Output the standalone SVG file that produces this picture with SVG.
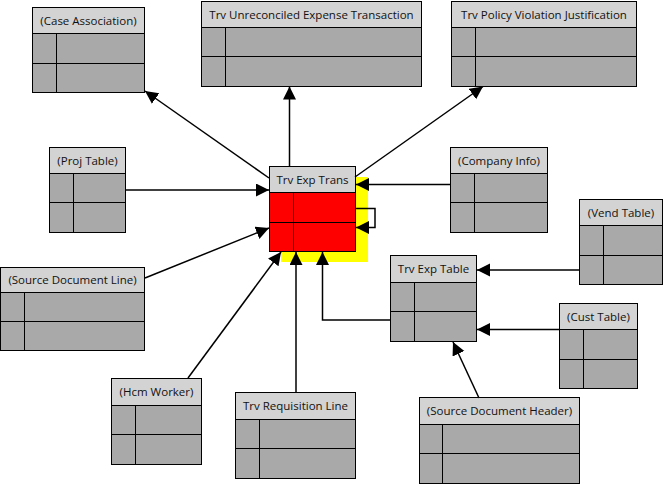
<svg xmlns="http://www.w3.org/2000/svg" width="663" height="484" viewBox="0 0 663 484">
<defs>
<marker id="ah" markerUnits="userSpaceOnUse" markerWidth="14" markerHeight="14" refX="13" refY="6.5" orient="auto">
<path d="M0,0 L13,6.5 L0,13 z" fill="#000"/>
</marker>
<style>
.body{fill:#a9a9a9;stroke:#000;stroke-width:1}
.red{fill:#ff0000;stroke:#000;stroke-width:1}
.hdr{fill:#d3d3d3;stroke:#000;stroke-width:1}
.div{stroke:#000;stroke-width:1;fill:none}
.lbl{font-family:"Open Sans","Noto Sans",sans-serif;font-size:11.5px;fill:#111;text-anchor:middle}
.con{stroke:#000;stroke-width:1.5;fill:none;marker-end:url(#ah)}
</style>
</defs>
<rect width="663" height="484" fill="#fff"/>

<g id="case-association">
<rect class="body" x="32.5" y="7.5" width="112" height="85"/>
<rect class="hdr" x="32.5" y="7.5" width="112" height="26"/>
<line class="div" x1="32.5" y1="63.5" x2="144.5" y2="63.5"/>
<line class="div" x1="56.5" y1="33.5" x2="56.5" y2="92.5"/>
<text class="lbl" x="88.5" y="24.5">(Case Association)</text>
</g>

<g id="trv-unreconciled-expense-transaction">
<rect class="body" x="201.5" y="1.5" width="220" height="85"/>
<rect class="hdr" x="201.5" y="1.5" width="220" height="26"/>
<line class="div" x1="201.5" y1="56.5" x2="421.5" y2="56.5"/>
<line class="div" x1="225.5" y1="27.5" x2="225.5" y2="86.5"/>
<text class="lbl" x="311.5" y="18.5">Trv Unreconciled Expense Transaction</text>
</g>

<g id="trv-policy-violation-justification">
<rect class="body" x="451.5" y="1.5" width="185" height="85"/>
<rect class="hdr" x="451.5" y="1.5" width="185" height="26"/>
<line class="div" x1="451.5" y1="56.5" x2="636.5" y2="56.5"/>
<line class="div" x1="475.5" y1="27.5" x2="475.5" y2="86.5"/>
<text class="lbl" x="544" y="18.5">Trv Policy Violation Justification</text>
</g>

<g id="trv-exp-trans">
<rect x="281" y="177" width="87" height="85" fill="#ffff00"/>
<rect class="red" x="269.5" y="166.5" width="86" height="85"/>
<rect class="hdr" x="269.5" y="166.5" width="86" height="26"/>
<line class="div" x1="269.5" y1="222.5" x2="355.5" y2="222.5"/>
<line class="div" x1="293.5" y1="192.5" x2="293.5" y2="251.5"/>
<text class="lbl" x="312.5" y="183.5">Trv Exp Trans</text>
</g>

<g id="proj-table">
<rect class="body" x="49.5" y="147.5" width="76" height="85"/>
<rect class="hdr" x="49.5" y="147.5" width="76" height="26"/>
<line class="div" x1="49.5" y1="202.5" x2="125.5" y2="202.5"/>
<line class="div" x1="73.5" y1="173.5" x2="73.5" y2="232.5"/>
<text class="lbl" x="87.5" y="164.5">(Proj Table)</text>
</g>

<g id="source-document-line">
<rect class="body" x="0.5" y="267.5" width="144" height="83"/>
<rect class="hdr" x="0.5" y="267.5" width="144" height="25"/>
<line class="div" x1="0.5" y1="321.5" x2="144.5" y2="321.5"/>
<line class="div" x1="24.5" y1="292.5" x2="24.5" y2="350.5"/>
<text class="lbl" x="72.5" y="284">(Source Document Line)</text>
</g>

<g id="company-info">
<rect class="body" x="450.5" y="147.5" width="97" height="85"/>
<rect class="hdr" x="450.5" y="147.5" width="97" height="26"/>
<line class="div" x1="450.5" y1="202.5" x2="547.5" y2="202.5"/>
<line class="div" x1="474.5" y1="173.5" x2="474.5" y2="232.5"/>
<text class="lbl" x="499" y="164.5">(Company Info)</text>
</g>

<g id="vend-table">
<rect class="body" x="579.5" y="199.5" width="83" height="85"/>
<rect class="hdr" x="579.5" y="199.5" width="83" height="26"/>
<line class="div" x1="579.5" y1="255.5" x2="662.5" y2="255.5"/>
<line class="div" x1="603.5" y1="225.5" x2="603.5" y2="284.5"/>
<text class="lbl" x="621" y="216.5">(Vend Table)</text>
</g>

<g id="trv-exp-table">
<rect class="body" x="390.5" y="255.5" width="86" height="86"/>
<rect class="hdr" x="390.5" y="255.5" width="86" height="27"/>
<line class="div" x1="390.5" y1="311.5" x2="476.5" y2="311.5"/>
<line class="div" x1="414.5" y1="282.5" x2="414.5" y2="341.5"/>
<text class="lbl" x="433.5" y="273">Trv Exp Table</text>
</g>

<g id="cust-table">
<rect class="body" x="559.5" y="303.5" width="78" height="85"/>
<rect class="hdr" x="559.5" y="303.5" width="78" height="26"/>
<line class="div" x1="559.5" y1="359.5" x2="637.5" y2="359.5"/>
<line class="div" x1="583.5" y1="329.5" x2="583.5" y2="388.5"/>
<text class="lbl" x="598.5" y="320.5">(Cust Table)</text>
</g>

<g id="source-document-header">
<rect class="body" x="419.5" y="397.5" width="160" height="86"/>
<rect class="hdr" x="419.5" y="397.5" width="160" height="27"/>
<line class="div" x1="419.5" y1="453.5" x2="579.5" y2="453.5"/>
<line class="div" x1="442.5" y1="424.5" x2="442.5" y2="483.5"/>
<text class="lbl" x="499.5" y="415">(Source Document Header)</text>
</g>

<g id="hcm-worker">
<rect class="body" x="111.5" y="378.5" width="90" height="86"/>
<rect class="hdr" x="111.5" y="378.5" width="90" height="27"/>
<line class="div" x1="111.5" y1="434.5" x2="201.5" y2="434.5"/>
<line class="div" x1="135.5" y1="405.5" x2="135.5" y2="464.5"/>
<text class="lbl" x="156.5" y="396">(Hcm Worker)</text>
</g>

<g id="trv-requisition-line">
<rect class="body" x="235.5" y="392.5" width="120" height="86"/>
<rect class="hdr" x="235.5" y="392.5" width="120" height="27"/>
<line class="div" x1="235.5" y1="448.5" x2="355.5" y2="448.5"/>
<line class="div" x1="259.5" y1="419.5" x2="259.5" y2="478.5"/>
<text class="lbl" x="295.5" y="410">Trv Requisition Line</text>
</g>

<g id="connectors">
<line class="con" x1="269" y1="178" x2="145" y2="91"/>
<line class="con" x1="289.5" y1="166" x2="289.5" y2="86.5"/>
<line class="con" x1="355" y1="177" x2="483" y2="86.5"/>
<line class="con" x1="126" y1="190" x2="269" y2="190"/>
<line class="con" x1="450" y1="184.5" x2="356" y2="184.5"/>
<line class="con" x1="145" y1="278" x2="269" y2="228"/>
<line class="con" x1="188" y1="378" x2="281" y2="252"/>
<line class="con" x1="296" y1="392" x2="296" y2="252"/>
<polyline class="con" points="390,320 322.5,320 322.5,252"/>
<polyline class="con" points="355,208.5 375,208.5 375,227.5 356,227.5"/>
<line class="con" x1="579" y1="270" x2="477" y2="270"/>
<line class="con" x1="559" y1="329.5" x2="477" y2="329.5"/>
<line class="con" x1="479" y1="398" x2="453" y2="342"/>
</g>
</svg>
